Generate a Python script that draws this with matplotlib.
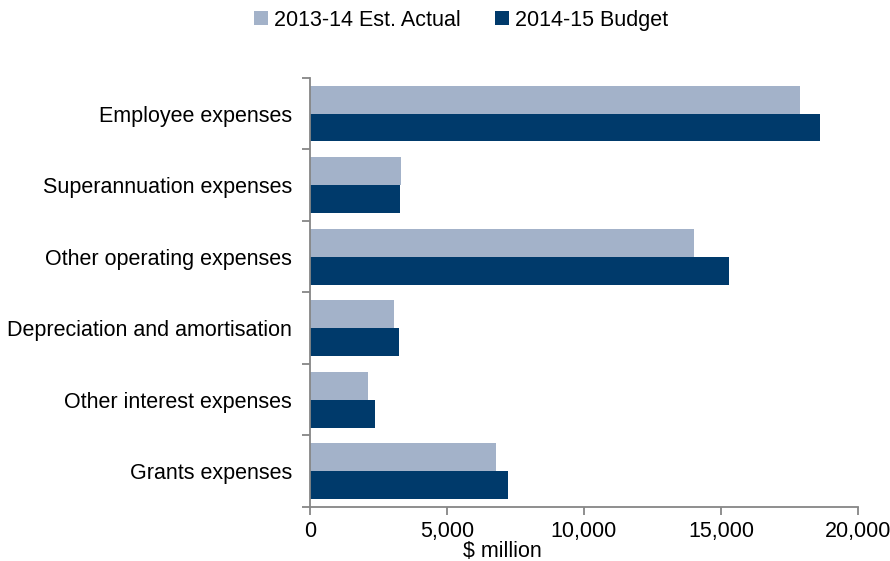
import matplotlib
matplotlib.use("Agg")
import matplotlib.pyplot as plt
import numpy as np
from matplotlib.ticker import FuncFormatter

plt.rcParams['font.family'] = ['Liberation Sans', 'DejaVu Sans']

categories = ["Employee expenses", "Superannuation expenses", "Other operating expenses",
              "Depreciation and amortisation", "Other interest expenses", "Grants expenses"]
est_actual_2013_14 = [17900, 3320, 14020, 3070, 2130, 6790]
budget_2014_15 = [18600, 3290, 15290, 3240, 2390, 7210]
series_names = ["2013-14 Est. Actual", "2014-15 Budget"]

light = "#A3B2C9"
dark = "#003A6B"
grey = "#868686"
fs = 15.5

fig = plt.figure(figsize=(8.9, 5.61), dpi=100)
ax = fig.add_axes([0.3483, 0.0963, 0.6157, 0.765])

y = np.arange(len(categories))
h = 0.39
ax.barh(y - h / 2, est_actual_2013_14, height=h, color=light, label=series_names[0])
ax.barh(y + h / 2, budget_2014_15, height=h, color=dark, label=series_names[1])

ax.set_ylim(len(categories) - 0.5, -0.5)
ax.set_xlim(0, 20000)

# category labels sit between the boundary ticks
ax.set_yticks(np.arange(len(categories) + 1) - 0.5)
ax.set_yticklabels([])
ax.set_yticks(y, minor=True)
ax.set_yticklabels(categories, minor=True, fontsize=fs)
ax.tick_params(axis='y', which='minor', length=0, pad=13)
ax.tick_params(axis='y', which='major', length=6, width=1.3, color=grey)

ax.set_xticks(np.arange(0, 20001, 5000))
ax.xaxis.set_major_formatter(FuncFormatter(lambda v, p: f"{int(v):,}"))
ax.tick_params(axis='x', length=6, width=1.3, color=grey, labelsize=fs, pad=4)
ax.set_xlabel("$ million", fontsize=fs, labelpad=0)
ax.xaxis.set_label_coords(0.352, -0.08)

for s in ["top", "right"]:
    ax.spines[s].set_visible(False)
for s in ["left", "bottom"]:
    ax.spines[s].set_color(grey)
    ax.spines[s].set_linewidth(1.3)

fig.legend(loc="upper center", bbox_to_anchor=(0.518, 1.017), ncol=2, frameon=False,
           fontsize=fs, handlelength=0.65, handleheight=0.65, handletextpad=0.3,
           columnspacing=1.55)

fig.savefig("out.png", dpi=100)
